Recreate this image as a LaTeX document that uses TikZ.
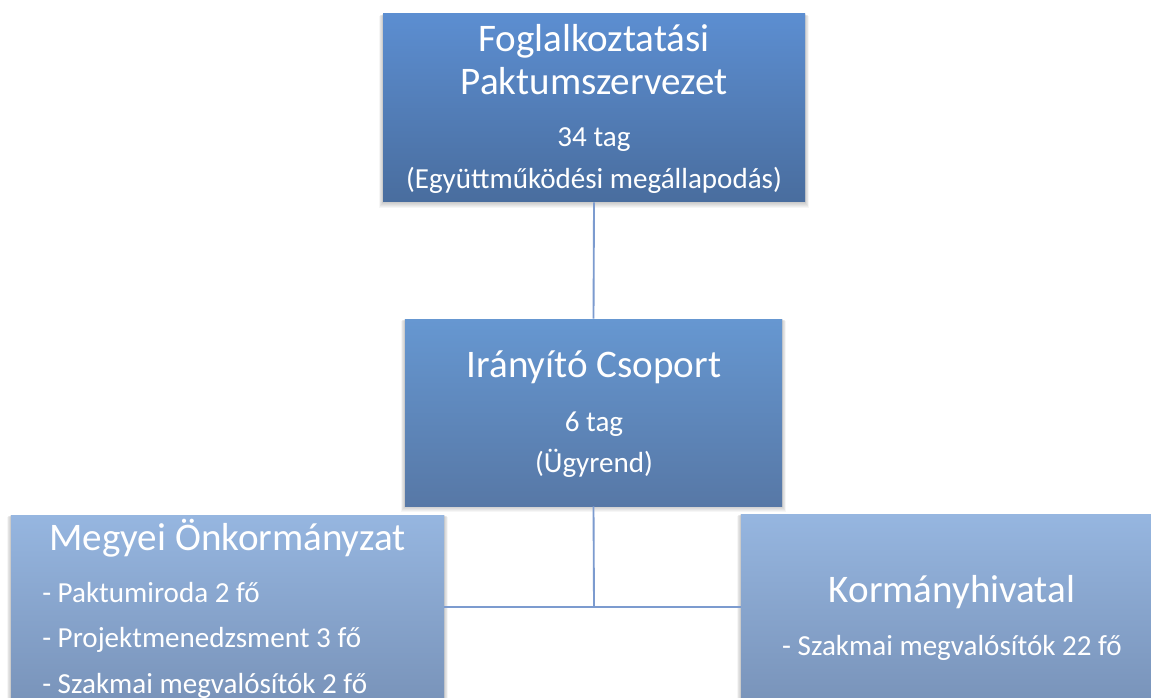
\documentclass[tikz,border=0pt]{standalone}
\usepackage{fontspec}
\setmainfont{Carlito}
\usetikzlibrary{fit,calc,backgrounds}
\definecolor{topA}{RGB}{92,142,209}
\definecolor{topB}{RGB}{73,109,158}
\definecolor{midA}{RGB}{102,151,209}
\definecolor{midB}{RGB}{87,120,166}
\definecolor{lowA}{RGB}{150,182,224}
\definecolor{lowB}{RGB}{118,144,182}
\definecolor{wirec}{RGB}{124,155,207}
% soft shadow under a box: stacked translucent rectangles
\newcommand{\softshade}[1]{%
  \foreach \k in {1,...,6}{%
    \fill[black, opacity=0.035]
      ($(#1.south west)+(-0.6*\k,0.9*\k)$) rectangle ($(#1.north east)+(0.6*\k,0.3*\k)$);
  }}
\begin{document}
\begin{tikzpicture}[x=0.75pt,y=-0.75pt,
  orgbox/.style={inner sep=0pt, draw=none},
  headtxt/.style={text=white, font=\fontsize{29.3}{35}\selectfont, anchor=base, inner sep=0pt},
  subtxt/.style={text=white, font=\fontsize{21.8}{26}\selectfont, anchor=base, inner sep=0pt},
  listtxt/.style={subtxt, anchor=base west},
  wire/.style={draw=wirec, line width=1.4pt}]
\clip (0,0) rectangle (1151,698);

% boxes
\node[orgbox, top color=topA, bottom color=topB, fit={(383,14)(805,202)}] (pakt) {};
\node[orgbox, top color=midA, bottom color=midB, fit={(405,319)(782,506)}] (iranyito) {};
\node[orgbox, top color=lowA, bottom color=lowB, fit={(11,515)(444,720)}] (megyei) {};
\node[orgbox, top color=lowA, bottom color=lowB, fit={(741,514)(1180,720)}] (korm) {};

\begin{pgfonlayer}{background}
  \fill[white] (0,0) rectangle (1151,698);
  \softshade{pakt}
  \softshade{iranyito}
  \softshade{megyei}
  \softshade{korm}
\end{pgfonlayer}

% connectors
\coordinate (junction) at (594,607);
\draw[wire] (pakt.south) -- (iranyito.north);
\draw[wire] (iranyito.south) -- (junction);
\draw[wire] (megyei.east |- junction) -- (junction) -- (korm.west |- junction);

% texts of the top box
\node[headtxt] (pakt1) at (594,52) {Foglalkoztatási};
\node[headtxt] (pakt2) at (594,95) {Paktumszervezet};
\node[subtxt] (pakt3) at (594,147) {34 tag};
\node[subtxt] (pakt4) at (594,189) {(Együttműködési megállapodás)};

% texts of the steering group
\node[headtxt] (ir1) at (594,377) {Irányító Csoport};
\node[subtxt] (ir2) at (594,431) {6 tag};
\node[subtxt] (ir3) at (594,472) {(Ügyrend)};

% county council
\node[headtxt] (me1) at (227.5,550) {Megyei Önkormányzat};
\node[listtxt] (me2) at (42,602) {- Paktumiroda 2 fő};
\node[listtxt] (me3) at (42,647) {- Projektmenedzsment 3 fő};
\node[listtxt] (me4) at (42,693) {- Szakmai megvalósítók 2 fő};

% government office
\node[headtxt] (ko1) at (952,602) {Kormányhivatal};
\node[subtxt] (ko2) at (952,655) {- Szakmai megvalósítók 22 fő};
\end{tikzpicture}
\end{document}
